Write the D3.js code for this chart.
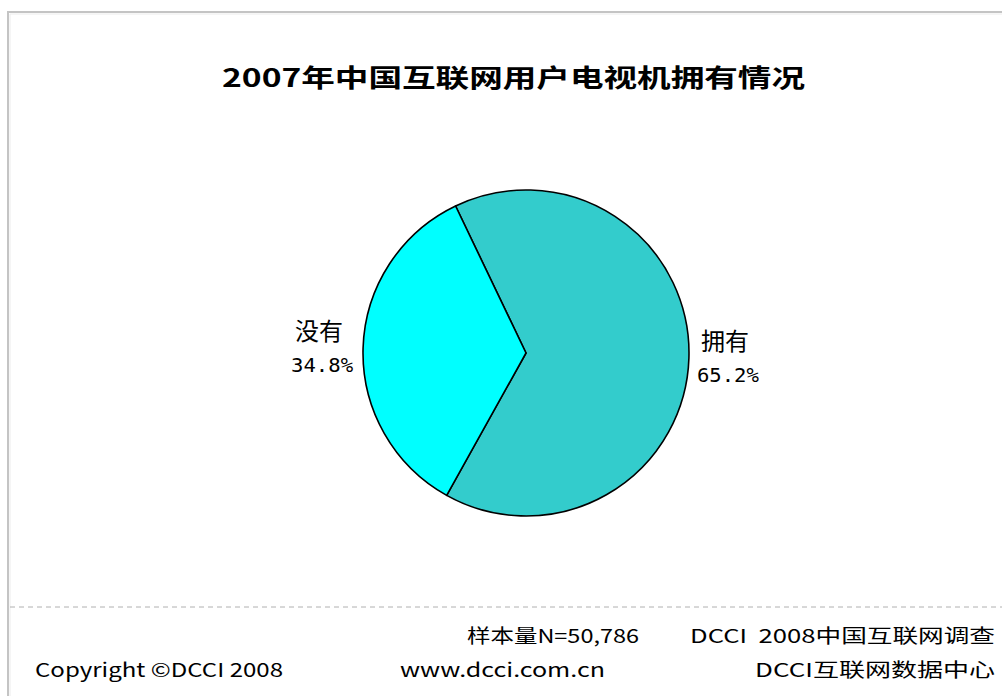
<!DOCTYPE html>
<html><head><meta charset="utf-8">
<script src="https://cdn.jsdelivr.net/npm/d3@7"></script>
<style>body{margin:0;background:#fff}svg{display:block}</style>
</head><body>
<svg id="c" width="1002" height="696"></svg>
<script>
const categories = ["拥有", "没有"];
const values = [65.2, 34.8];
const valueLabels = ["65.2%", "34.8%"];
const colors = ["#33CCCC", "#00FFFF"];
const title = "2007年中国互联网用户电视机拥有情况";

const svg = d3.select("#c");
const font = "'Noto Sans CJK SC', 'DejaVu Sans', sans-serif";

// frame
svg.append("path").attr("d", "M8,696 V12 H1002").attr("fill", "none")
  .attr("stroke", "#c4c4c4").attr("stroke-width", 2);
svg.append("path").attr("d", "M10,696 V14 H1002").attr("fill", "none")
  .attr("stroke", "#ececec").attr("stroke-width", 1);

// title
svg.append("text").attr("x", 222).attr("y", 87).text(title)
  .attr("font-family", font).attr("font-weight", "bold").attr("font-size", 25)
  .attr("textLength", 583).attr("lengthAdjust", "spacingAndGlyphs").attr("fill", "#000");

// pie
const cx = 526, cy = 353, r = 163;
const deg = Math.PI / 180;
const pie = d3.pie().sort(null).value(d => d)
  .startAngle(-25.6 * deg).endAngle(334.4 * deg);
const arcs = pie(values);
const arc = d3.arc().innerRadius(0).outerRadius(r);
const g = svg.append("g").attr("transform", `translate(${cx},${cy})`);
g.selectAll("path").data(arcs).join("path")
  .attr("d", arc).attr("fill", (d, i) => colors[i])
  .attr("stroke", "#000").attr("stroke-width", 1.6).attr("stroke-linejoin", "round");

// labels (left-aligned text blocks placed outside the slice)
const blockW = 62;
arcs.forEach((a, i) => {
  const mid = (a.startAngle + a.endAngle) / 2;
  const right = Math.sin(mid) > 0;
  const ex = cx + Math.sin(mid) * (r + 8);
  const ly = cy - Math.cos(mid) * (r + 8);
  const lx = right ? ex : ex - blockW - 2;
  svg.append("text").attr("x", lx + 4).attr("y", ly - 8).text(categories[i])
    .attr("font-family", font).attr("font-size", 24)
    .attr("fill", "#000");
  svg.append("text").attr("x", lx).attr("y", ly + 24).text(valueLabels[i])
    .attr("font-family", "'DejaVu Sans Mono', monospace").attr("font-size", 20)
    .attr("fill", "#000")
    .attr("textLength", blockW).attr("lengthAdjust", "spacingAndGlyphs");
});

// dashed separator
svg.append("line").attr("x1", 10).attr("x2", 1002).attr("y1", 607).attr("y2", 607)
  .attr("stroke", "#b0b0b0").attr("stroke-width", 1).attr("stroke-dasharray", "5,4");

// footer
const footer = [
  {t: "样本量N=50,786", x: 467, y: 643, w: 172},
  {t: "DCCI  2008中国互联网调查", x: 690, y: 643, w: 305},
  {t: "Copyright ©DCCI 2008", x: 35, y: 677, w: 248},
  {t: "www.dcci.com.cn", x: 400, y: 677, w: 205},
  {t: "DCCI互联网数据中心", x: 755, y: 677, w: 240}
];
svg.selectAll("text.f").data(footer).join("text").attr("class", "f")
  .attr("x", d => d.x).attr("y", d => d.y).text(d => d.t)
  .attr("font-family", font).attr("font-size", 19).attr("fill", "#000")
  .attr("textLength", d => d.w).attr("lengthAdjust", "spacingAndGlyphs")
  .style("white-space", "pre");
</script>
</body></html>
